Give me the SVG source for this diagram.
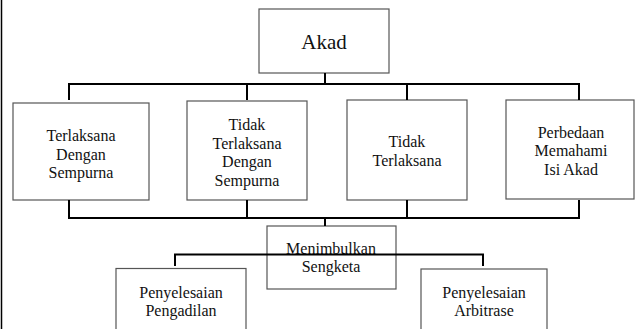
<svg xmlns="http://www.w3.org/2000/svg" width="635" height="329" viewBox="0 0 635 329">
<style>
.box{fill:#fff;stroke:#555;stroke-width:1.2}
text{font-family:'Liberation Serif','DejaVu Serif',serif;font-size:16px;fill:#111;text-anchor:middle}
.big{font-size:21px}
.c{fill:none;stroke:#000;stroke-width:2}
</style>
<rect width="635" height="329" fill="#fff"/>
<line x1="1.5" y1="0" x2="1.5" y2="329" stroke="#000" stroke-width="1.5"/>
<g id="akad">
<rect class="box" x="259" y="9" width="130" height="64"/>
<text class="big" x="324" y="49" font-family="Liberation Serif, serif">Akad</text>
</g>
<g id="terlaksana">
<rect class="box" x="13" y="103" width="136" height="97"/>
<text x="81" y="141">Terlaksana</text>
<text x="81" y="159.5">Dengan</text>
<text x="81" y="178">Sempurna</text>
</g>
<g id="tidak-sempurna">
<rect class="box" x="187" y="101" width="120" height="99"/>
<text x="247" y="130">Tidak</text>
<text x="247" y="148.5">Terlaksana</text>
<text x="247" y="167">Dengan</text>
<text x="247" y="185.5">Sempurna</text>
</g>
<g id="tidak-terlaksana">
<rect class="box" x="347" y="100" width="120" height="100"/>
<text x="407" y="147">Tidak</text>
<text x="407" y="165.5">Terlaksana</text>
</g>
<g id="perbedaan">
<rect class="box" x="506" y="100" width="128" height="99"/>
<text x="571" y="137.5">Perbedaan</text>
<text x="571" y="156">Memahami</text>
<text x="571" y="174.5">Isi Akad</text>
</g>
<g id="sengketa">
<rect class="box" x="267" y="226" width="129" height="63"/>
<text x="331" y="253.5">Menimbulkan</text>
<text x="331" y="271.5">Sengketa</text>
</g>
<g id="pengadilan">
<rect class="box" x="116" y="268.5" width="130" height="70"/>
<text x="181" y="297.5">Penyelesaian</text>
<text x="181" y="315.5">Pengadilan</text>
</g>
<g id="arbitrase">
<rect class="box" x="421" y="269" width="126" height="70"/>
<text x="484" y="298">Penyelesaian</text>
<text x="484" y="315.5">Arbitrase</text>
</g>
<g id="connectors">
<path class="c" d="M325 73V84M69 100V84H579V100M247 84V100M407 84V100"/>
<path class="c" d="M69 200V218H579V200M247 200V218M407 200V218M325 218V226"/>
<path class="c" d="M175 266V254.5H483V266"/>
</g>
</svg>
